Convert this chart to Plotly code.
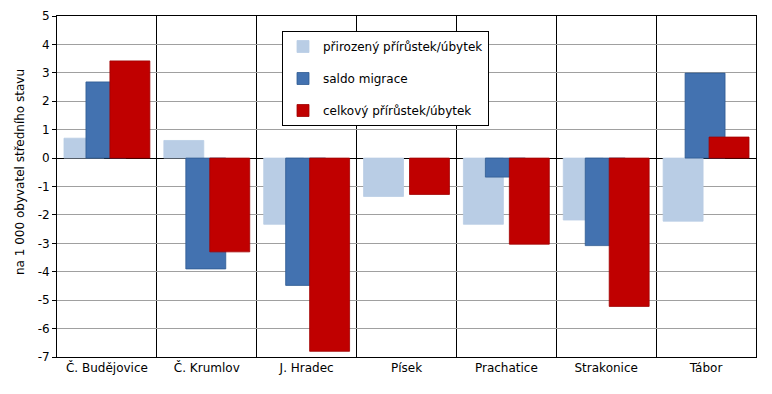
import plotly.graph_objects as go

categories = ["Č. Budějovice", "Č. Krumlov", "J. Hradec", "Písek", "Prachatice", "Strakonice", "Tábor"]
prirozeny = [0.70, 0.62, -2.33, -1.35, -2.33, -2.18, -2.22]
migrace = [2.68, -3.90, -4.48, None, -0.67, -3.08, 2.99]
celkovy = [3.42, -3.30, -6.80, -1.28, -3.03, -5.22, 0.74]
names = ["přirozený přírůstek/úbytek", "saldo migrace", "celkový přírůstek/úbytek"]
y_ticks = list(range(-7, 6))
y_tick_text = [str(v) for v in y_ticks]

font = "DejaVu Sans"
fig = go.Figure()
series = [prirozeny, migrace, celkovy]
colors = ["#b9cde5", "#4372b0", "#c00000"]
lines = ["#b9cde5", "#2f5b92", "#a00000"]
offsets = [-0.43, -0.21, 0.03]
for i, (vals, name) in enumerate(zip(series, names)):
    fig.add_trace(go.Bar(
        x=categories, y=vals, name=name,
        marker=dict(color=colors[i], line=dict(color=lines[i], width=0.8)),
        width=0.4, offset=offsets[i], legendgroup=str(i),
    ))

# page body has an 8px margin; figure sized to fit the window
W, H = 764, 386
OFF = 8
TOP = 16
L, R, T, B = 57 - OFF, W - (756 - OFF), TOP - OFF, H - (357 - OFF)
pw = W - L - R
ph = H - T - B
fig.update_layout(
    barmode="overlay",
    width=W, height=H,
    margin=dict(l=L, r=R, t=T, b=B, autoexpand=False),
    plot_bgcolor="white", paper_bgcolor="white",
    font=dict(family=font, size=12, color="black"),
    legend=dict(x=(282 - 57) / pw, y=(357 - 31) / ph, xanchor="left", yanchor="top",
                bordercolor="black", borderwidth=1, bgcolor="white",
                font=dict(size=12), tracegroupgap=13, itemwidth=30),
    showlegend=True,
)
fig.add_annotation(
    text="na 1 000 obyvatel středního stavu", textangle=-90,
    xref="paper", yref="paper", x=-(57 - 20) / pw, y=(357 - 172) / ph,
    xanchor="center", yanchor="middle", showarrow=False, font=dict(size=12),
)
fig.update_xaxes(
    automargin=False,
    tickson="boundaries", showgrid=True, gridcolor="black", gridwidth=1,
    showline=True, linecolor="black", mirror=True, ticks="", tickfont=dict(size=12),
)
fig.update_yaxes(
    automargin=False, ticklabeloverflow="allow",
    range=[-7, 5], tickvals=y_ticks, ticktext=y_tick_text,
    showgrid=True, gridcolor="#a0a0a0", gridwidth=1,
    zeroline=True, zerolinecolor="black", zerolinewidth=1,
    showline=True, linecolor="black", mirror=True, ticks="outside", ticklen=4, tickcolor="black",
    tickfont=dict(size=12),
)
fig.write_html("out.html")
